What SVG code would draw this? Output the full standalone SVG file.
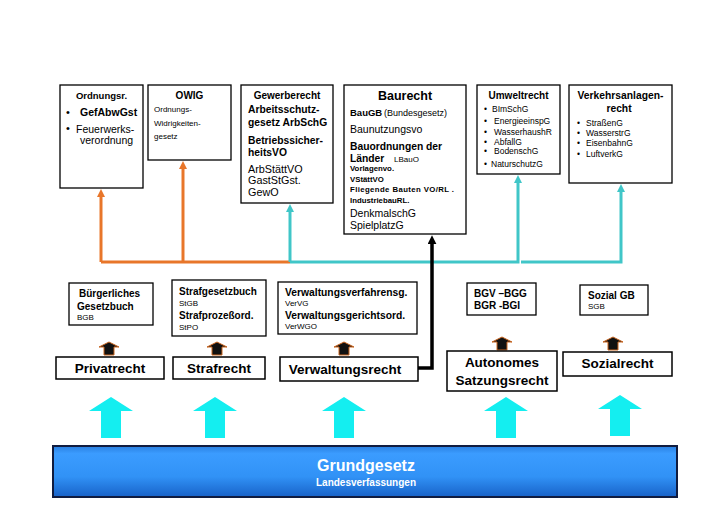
<svg xmlns="http://www.w3.org/2000/svg" width="728" height="514" viewBox="0 0 728 514">
<defs>
<style>
text{font-family:"Liberation Sans",Arial,sans-serif;fill:#000}
.b{font-weight:bold}
.m{text-anchor:middle}
.box{fill:#fff;stroke:#000;stroke-width:1.3}
.bx2{fill:#fff;stroke:#000;stroke-width:1.5}
.s8{font-size:8px}
.s85{font-size:8.5px}
.s10{font-size:10px}
.s105{font-size:10.5px}
.big{font-size:13.5px;font-weight:bold;text-anchor:middle}
.or{fill:none;stroke:#e8762a;stroke-width:3}
.cy{fill:none;stroke:#40c6c8;stroke-width:3}
.bk{fill:none;stroke:#000;stroke-width:3.5}
.up{fill:#111;stroke:#c8641e;stroke-width:1}
.cyan{fill:#14eef0}
</style>
<marker id="mo" viewBox="0 0 10 10" refX="2.5" refY="5" markerWidth="8" markerHeight="8" markerUnits="userSpaceOnUse" orient="auto"><path d="M0,0 L10,5 L0,10 z" fill="#e8762a"/></marker>
<marker id="mc" viewBox="0 0 10 10" refX="2.5" refY="5" markerWidth="8" markerHeight="8" markerUnits="userSpaceOnUse" orient="auto"><path d="M0,0 L10,5 L0,10 z" fill="#40c6c8"/></marker>
<marker id="mk" viewBox="0 0 10 10" refX="2.5" refY="5" markerWidth="9" markerHeight="9" markerUnits="userSpaceOnUse" orient="auto"><path d="M0,0 L10,5 L0,10 z" fill="#000"/></marker>
<linearGradient id="gb" x1="0" y1="0" x2="0" y2="1">
<stop offset="0" stop-color="#2a7fe0"/>
<stop offset="0.15" stop-color="#3b9cff"/>
<stop offset="0.6" stop-color="#3192f6"/>
<stop offset="1" stop-color="#1862c8"/>
</linearGradient>
</defs>

<g id="connectors">
<path class="or" d="M101,262 H290"/>
<path class="or" d="M101,262 V195" marker-end="url(#mo)"/>
<path class="or" d="M183,262 V167" marker-end="url(#mo)"/>
<path class="cy" d="M290,262 V210" marker-end="url(#mc)"/>
<path class="cy" d="M290,262 H518 V181" marker-end="url(#mc)"/>
<path class="cy" d="M521,262 H621 V190" marker-end="url(#mc)"/>
<path class="bk" d="M418,368 H432 V242" marker-end="url(#mk)"/>
<path class="up" d="M109,342 L119,347 L114,347 L114,355 L104,355 L104,347 L99,347 Z"/>
<path class="up" d="M217,342 L227,347 L222,347 L222,355 L212,355 L212,347 L207,347 Z"/>
<path class="up" d="M344,342 L354,347 L349,347 L349,355 L339,355 L339,347 L334,347 Z"/>
<path class="up" d="M502,337 L512,342 L507,342 L507,350 L497,350 L497,342 L492,342 Z"/>
<path class="up" d="M613,337 L623,342 L618,342 L618,350 L608,350 L608,342 L603,342 Z"/>
<path class="cyan" d="M111,397 L133,411 L121,411 L121,438 L101,438 L101,411 L89,411 Z"/>
<path class="cyan" d="M215,397 L237,411 L225,411 L225,438 L205,438 L205,411 L193,411 Z"/>
<path class="cyan" d="M344,397 L366,411 L354,411 L354,438 L334,438 L334,411 L322,411 Z"/>
<path class="cyan" d="M506,397 L528,411 L516,411 L516,438 L496,438 L496,411 L484,411 Z"/>
<path class="cyan" d="M620,395 L642,409 L630,409 L630,436 L610,436 L610,409 L598,409 Z"/>
</g>

<g id="ordnungsr">
<rect class="box" x="60" y="85" width="83" height="103"/>
<text class="b m" x="101.5" y="99" font-size="9.5">Ordnungsr.</text>
<text x="66" y="116" font-size="11">•</text>
<text class="b s105" x="80" y="116">GefAbwGst</text>
<text x="66" y="132" font-size="11">•</text>
<text class="s105" x="76" y="133">Feuerwerks-</text>
<text class="s105" x="80" y="144">verordnung</text>
</g>

<g id="owig">
<rect class="box" x="148" y="85" width="83" height="75"/>
<text class="b m s10" x="189.5" y="99">OWIG</text>
<text class="s8" x="154" y="112">Ordnungs-</text>
<text class="s8" x="154" y="126">Widrigkeiten-</text>
<text class="s8" x="154" y="139">gesetz</text>
</g>

<g id="gewerberecht">
<rect class="box" x="241" y="85" width="92" height="118"/>
<text class="b m s10" x="287" y="99">Gewerberecht</text>
<text class="b" x="248" y="113" font-size="10.3">Arbeitsschutz-</text>
<text class="b" x="248" y="126" font-size="10.3">gesetz ArbSchG</text>
<text class="b" x="248" y="144" font-size="10.3">Betriebssicher-</text>
<text class="b" x="248" y="156" font-size="10.3">heitsVO</text>
<text x="248" y="173" font-size="10.8">ArbStättVO</text>
<text x="248" y="184" font-size="10.8">GastStGst.</text>
<text x="248" y="196" font-size="10.8">GewO</text>
</g>

<g id="baurecht">
<rect class="box" x="344" y="85" width="122" height="149"/>
<text class="b m" x="405" y="100" font-size="12.5">Baurecht</text>
<text class="b" x="350" y="116" font-size="9.5">BauGB</text>
<text x="384" y="116" font-size="9">(Bundesgesetz)</text>
<text class="s105" x="350" y="133">Baunutzungsvo</text>
<text class="b" x="350" y="150" font-size="10.3">Bauordnungen der</text>
<text class="b" x="350" y="162" font-size="10.3">Länder</text>
<text class="s8" x="394" y="162">LBauO</text>
<text class="b" x="350" y="171" font-size="7.8">Vorlagenvo.</text>
<text class="b" x="350" y="182" font-size="7.8">VStättVO</text>
<text class="b" x="350" y="192" font-size="7.8" textLength="104" lengthAdjust="spacing">Fliegende Bauten VO/RL .</text>
<text class="b" x="350" y="203" font-size="7.8">IndustriebauRL.</text>
<text class="s105" x="350" y="217">DenkmalschG</text>
<text class="s105" x="350" y="229">SpielplatzG</text>
</g>

<g id="umweltrecht">
<rect class="box" x="477" y="85" width="83" height="89"/>
<text class="b m s10" x="518.5" y="99">Umweltrecht</text>
<text class="s85" x="484" y="112">•</text><text class="s85" x="492" y="112">BImSchG</text>
<text class="s85" x="484" y="124">•</text><text class="s85" x="494" y="124">EnergieeinspG</text>
<text class="s85" x="484" y="135">•</text><text class="s85" x="494" y="135">WasserhaushR</text>
<text class="s85" x="484" y="145">•</text><text class="s85" x="494" y="145">AbfallG</text>
<text class="s85" x="484" y="154">•</text><text class="s85" x="494" y="154">BodenschG</text>
<text class="s85" x="484" y="167">•</text><text class="s85" x="491" y="167">NaturschutzG</text>
</g>

<g id="verkehrsanlagenrecht">
<rect class="box" x="569" y="85" width="103" height="98"/>
<text class="b m" x="620.5" y="99" font-size="10.3">Verkehrsanlagen-</text>
<text class="b m" x="619" y="112" font-size="10.3">recht</text>
<text class="s85" x="577" y="126">•</text><text class="s85" x="586" y="126">StraßenG</text>
<text class="s85" x="577" y="136">•</text><text class="s85" x="586" y="136">WasserstrG</text>
<text class="s85" x="577" y="146">•</text><text class="s85" x="586" y="146">EisenbahnG</text>
<text class="s85" x="577" y="157">•</text><text class="s85" x="586" y="157">LuftverkG</text>
</g>

<g id="bgb">
<rect class="box" x="69" y="283" width="84" height="42"/>
<text class="b s10" x="79" y="297">Bürgerliches</text>
<text class="b s10" x="77" y="310">Gesetzbuch</text>
<text class="s8" x="77" y="320">BGB</text>
</g>

<g id="stgb">
<rect class="box" x="172" y="280" width="94" height="56"/>
<text class="b s10" x="179" y="295">Strafgesetzbuch</text>
<text class="s8" x="179" y="306">StGB</text>
<text class="b s10" x="179" y="319">Strafprozeßord.</text>
<text class="s8" x="179" y="330">StPO</text>
</g>

<g id="vwvfg">
<rect class="box" x="278" y="282" width="139" height="52"/>
<text class="b" x="285" y="296" font-size="10.3">Verwaltungsverfahrensg.</text>
<text class="s8" x="285" y="306">VerVG</text>
<text class="b" x="285" y="319" font-size="10.3">Verwaltungsgerichtsord.</text>
<text class="s8" x="285" y="329">VerWGO</text>
</g>

<g id="bgv">
<rect class="box" x="467" y="283" width="69" height="32"/>
<text class="b s10" x="474" y="297">BGV –BGG</text>
<text class="b s10" x="474" y="309">BGR -BGI</text>
</g>

<g id="sgb">
<rect class="box" x="580" y="285" width="68" height="30"/>
<text class="b s10" x="588" y="299">Sozial GB</text>
<text class="s8" x="588" y="309">SGB</text>
</g>

<g id="privatrecht">
<rect class="bx2" x="56" y="357" width="108" height="22"/>
<text class="big" x="110" y="373">Privatrecht</text>
</g>
<g id="strafrecht">
<rect class="bx2" x="173" y="357" width="92" height="22"/>
<text class="big" x="219" y="373">Strafrecht</text>
</g>
<g id="verwaltungsrecht">
<rect class="bx2" x="280" y="357" width="138" height="24"/>
<text class="big" x="345" y="374">Verwaltungsrecht</text>
</g>
<g id="autonomes">
<rect class="bx2" x="447" y="351" width="110" height="40"/>
<text class="big" x="502" y="367">Autonomes</text>
<text class="big" x="502" y="385">Satzungsrecht</text>
</g>
<g id="sozialrecht">
<rect class="bx2" x="563" y="352" width="109" height="24"/>
<text class="big" x="617.5" y="368">Sozialrecht</text>
</g>

<g id="grundgesetz">
<rect x="53" y="446" width="624" height="51" fill="url(#gb)" stroke="#101c40" stroke-width="2"/>
<text class="b m" x="366" y="471" font-size="16" style="fill:#fff">Grundgesetz</text>
<text class="b m s10" x="366" y="486" style="fill:#fff">Landesverfassungen</text>
</g>
</svg>
